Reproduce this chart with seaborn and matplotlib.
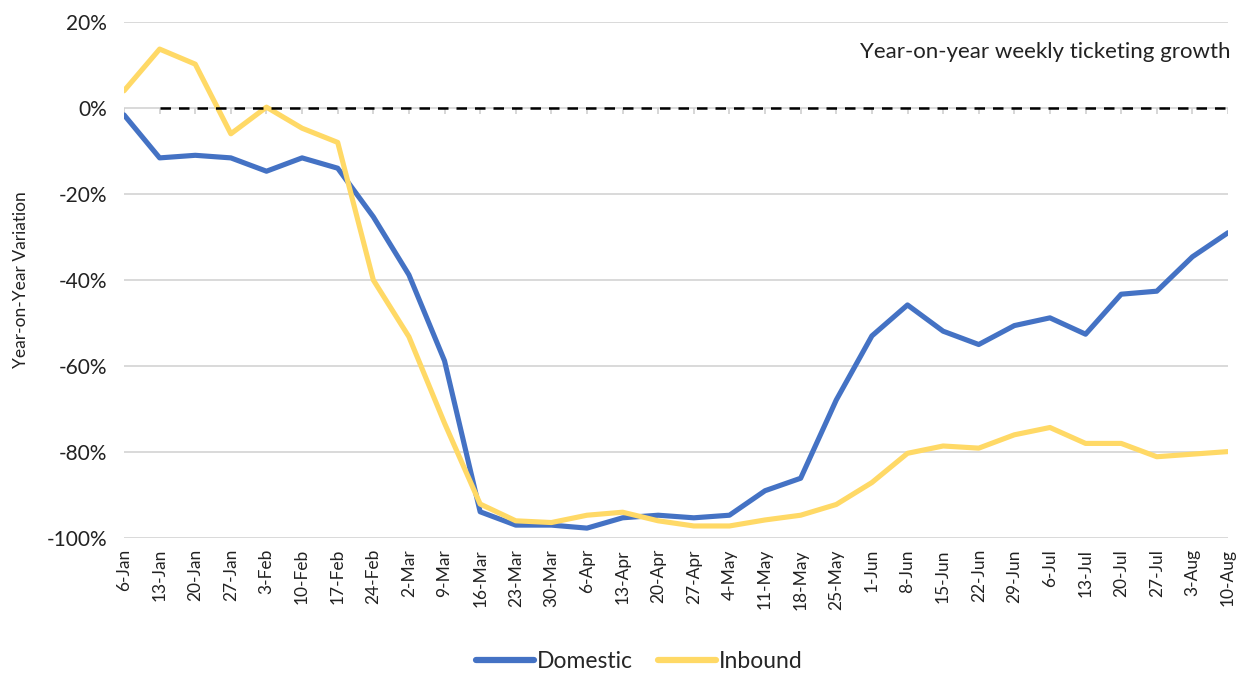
import numpy as np
import pandas as pd
import matplotlib
matplotlib.use("Agg")
import matplotlib.pyplot as plt
from matplotlib.lines import Line2D
import seaborn as sns

# Week-starting dates
weeks = ["6-Jan", "13-Jan", "20-Jan", "27-Jan", "3-Feb", "10-Feb", "17-Feb", "24-Feb",
         "2-Mar", "9-Mar", "16-Mar", "23-Mar", "30-Mar", "6-Apr", "13-Apr", "20-Apr",
         "27-Apr", "4-May", "11-May", "18-May", "25-May", "1-Jun", "8-Jun", "15-Jun",
         "22-Jun", "29-Jun", "6-Jul", "13-Jul", "20-Jul", "27-Jul", "3-Aug", "10-Aug"]

# Year-on-year weekly ticketing growth (%)
domestic = [-1.6, -11.6, -11.0, -11.6, -14.7, -11.6, -14.0, -25.3, -38.8, -58.8,
            -93.9, -97.0, -97.0, -97.7, -95.3, -94.7, -95.3, -94.7, -89.0, -86.1,
            -67.9, -53.0, -45.8, -51.9, -55.0, -50.6, -48.8, -52.6, -43.3, -42.6,
            -34.6, -29.0]
inbound = [4.0, 13.7, 10.2, -6.0, 0.2, -4.7, -8.0, -40.0, -53.2, -73.3,
           -92.1, -96.0, -96.4, -94.7, -94.0, -96.0, -97.2, -97.2, -95.8, -94.7,
           -92.2, -87.1, -80.3, -78.6, -79.1, -76.0, -74.3, -78.0, -78.0, -81.1,
           -80.5, -79.9]
baseline = [0.0] * (len(weeks) - 1)  # zero reference, from the second week on

y_ticks = [20, 0, -20, -40, -60, -80, -100]
series_names = ["Domestic", "Inbound"]
series_colors = ["#4472C4", "#FFD966"]

sns.set_theme(style="white")
plt.rcParams["font.family"] = ["Lato", "DejaVu Sans"]

idx = np.arange(len(weeks))
df = pd.DataFrame({
    "week": np.concatenate([idx, idx]),
    "value": domestic + inbound,
    "series": [series_names[0]] * len(weeks) + [series_names[1]] * len(weeks),
})

fig = plt.figure(figsize=(12.49, 6.77), dpi=100)
ax = fig.add_axes([0.0993, 0.2053, 0.8839, 0.7622])

# Category-axis tick marks hanging below the zero line
ax.vlines(idx, -1.3, 0, colors="#cfcfcf", linewidth=1.2, zorder=2)

sns.lineplot(data=df, x="week", y="value", hue="series", hue_order=series_names,
             palette=series_colors, linewidth=3.7, legend=False, ax=ax, zorder=3)
for ln in ax.lines:
    ln.set_solid_capstyle("round")
    ln.set_solid_joinstyle("round")

sns.lineplot(x=idx[1:], y=baseline, color="black", linewidth=1.8,
             linestyle=(0, (4.2, 3.2)), ax=ax, zorder=4)

ax.set_xlim(0, len(weeks) - 1)
ax.set_ylim(-100, 20)
ax.set_yticks(y_ticks)
ax.set_yticklabels([f"{v}%" for v in y_ticks], fontsize=15, color="#222222")
ax.set_xticks(idx)
ax.set_xticklabels(weeks, rotation=90, fontsize=12.5, color="#222222")
ax.tick_params(axis="x", length=0, pad=8)
ax.tick_params(axis="y", length=0, pad=12)
ax.grid(axis="y", color="#d9d9d9", linewidth=1.4)
ax.grid(axis="x", visible=False)
for sp in ax.spines.values():
    sp.set_visible(False)
ax.set_xlabel("")
ax.set_ylabel("Year-on-Year Variation", fontsize=12.5, color="#222222", labelpad=13)

ax.text(1.002, 0.942, "Year-on-year weekly ticketing growth", transform=ax.transAxes,
        ha="right", va="center", fontsize=16, color="#222222")

handles = [Line2D([0], [0], color=c, linewidth=4.5, solid_capstyle="round")
           for c in series_colors]
fig.legend(handles, series_names, loc="center", bbox_to_anchor=(0.512, 0.023),
           ncol=2, frameon=False, fontsize=16.5, handlelength=2.5,
           handletextpad=0.15, columnspacing=1.1)

fig.savefig("out.png", dpi=100)
